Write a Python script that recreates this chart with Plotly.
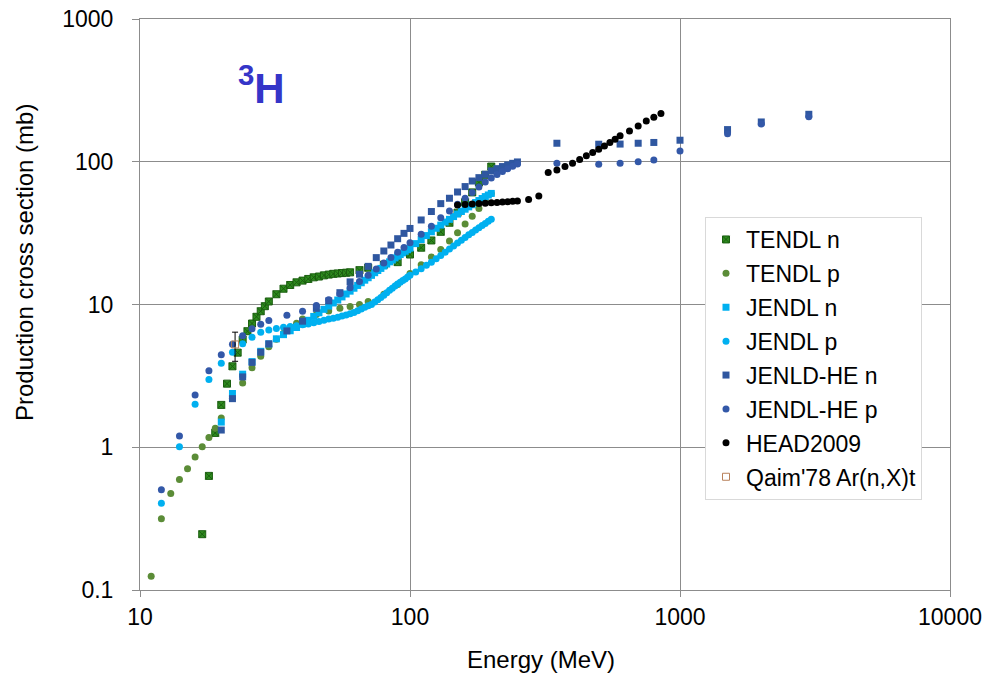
import plotly.graph_objects as go

# ---------------- data ----------------
tendl_n_E = [17, 18, 19, 20, 21, 22, 23, 24, 25, 26, 27, 28, 29, 30,
             32, 34, 36, 38, 40, 42, 44, 46, 48, 50, 52, 54, 56, 58, 60,
             65, 70, 80, 90, 100, 110, 120, 130, 140, 150, 160, 170, 180, 190, 200]
tendl_n = [0.246, 0.63, 1.26, 1.98, 2.79, 3.69, 4.6, 5.68, 6.5, 7.36, 8.2, 8.97, 9.73, 10.5,
           11.8, 12.9, 13.7, 14.3, 14.7, 15.1, 15.5, 15.7, 16.0, 16.2, 16.4, 16.5, 16.6, 16.7, 16.8,
           17.4, 18.1, 19.0, 19.8, 22.4, 25.0, 28.1, 32.3, 37.4, 44.0, 52.0, 61.0, 71.5, 81.0, 92.5]

tendl_p_E = [11, 12, 13, 14, 15, 16, 17, 18, 19, 20,
             22, 24, 26, 28, 30, 32, 34, 36, 38, 40,
             45, 50, 55, 60, 65, 70,
             80, 90, 100, 110, 120, 130, 140, 150, 160, 170, 180, 190, 200]
tendl_p = [0.125, 0.315, 0.475, 0.594, 0.706, 0.853, 1.01, 1.17, 1.36, 1.6,
           2.2, 2.82, 3.6, 4.34, 5.05, 5.7, 6.3, 6.9, 7.4, 7.9,
           8.5, 9.0, 9.4, 9.7, 10.0, 10.5,
           11.8, 13.8, 16.5, 19.0, 21.5, 24.3, 27.8, 31.8, 36.6, 41.5, 47.0, 53.0, 60.0]

jendl_n_E = [20, 22, 24, 26, 28, 30, 32, 34, 36, 38, 40, 42, 44, 46, 48, 50,
             52, 54, 56, 58, 60, 62, 64, 66, 68, 70, 72, 74, 76, 78, 80,
             82, 84, 86, 88, 90, 92, 94, 96, 98, 100,
             105, 110, 115, 120, 125, 130, 135, 140, 145, 150,
             155, 160, 165, 170, 175, 180, 185, 190, 195, 200]
jendl_n = [1.5, 2.38, 3.25, 3.98, 4.7, 5.3, 5.75, 6.15, 6.55, 6.9, 7.3, 7.75, 8.25, 8.75, 9.25, 9.75,
           10.25, 10.75, 11.3, 11.85, 12.4, 13.0, 13.6, 14.2, 14.8, 15.4, 16.0, 16.7, 17.3, 17.9, 18.6,
           19.2, 19.9, 20.5, 21.2, 21.8, 22.4, 23.0, 23.6, 24.2, 24.8,
           26.7, 28.5, 30.4, 32.3, 34.2, 36.0, 37.8, 39.5, 41.3, 43.0,
           44.8, 46.5, 48.3, 50.0, 51.8, 53.5, 55.3, 57.0, 58.5, 60.0]

jendl_p_E = [12, 14, 16, 18, 20, 22, 24, 26, 28, 30, 32, 34, 36, 38, 40, 42, 44, 46, 48, 50,
             52, 54, 56, 58, 60, 62, 64, 66, 68, 70, 72, 74, 76, 78, 80,
             82, 84, 86, 88, 90, 92, 94, 96, 98, 100,
             105, 110, 115, 120, 125, 130, 135, 140, 145, 150,
             155, 160, 165, 170, 175, 180, 185, 190, 195, 200]
jendl_p = [0.406, 1.01, 2.0, 2.98, 3.87, 4.63, 5.32, 5.9, 6.4, 6.64, 6.8, 6.92, 7.02, 7.1, 7.2,
           7.3, 7.45, 7.6, 7.75, 7.9,
           8.0, 8.15, 8.3, 8.45, 8.6, 8.8, 9.05, 9.3, 9.55, 9.8, 10.0, 10.4, 10.8, 11.2, 11.6,
           12.1, 12.6, 13.0, 13.5, 13.9, 14.3, 14.7, 15.1, 15.6, 16.0,
           16.9, 17.8, 18.8, 19.8, 20.9, 22.0, 23.2, 24.5, 25.7, 27.0,
           28.2, 29.5, 30.8, 32.0, 33.3, 34.5, 35.8, 37.0, 38.3, 39.5]

jendlhe_n_E = [20, 22, 24, 26, 28, 30, 35, 40, 45, 50, 55, 60, 65, 70, 75, 80, 85, 90, 95, 100,
               110, 120, 130, 140, 150, 160, 170, 180, 190, 200, 210, 220, 230, 240, 250,
               350, 500, 600, 700, 800, 1000, 1500, 2000, 3000]
jendlhe_n = [1.32, 2.19, 3.11, 3.93, 4.63, 5.3, 6.53, 7.64, 9.4, 10.6, 12.1, 14.4, 16.3, 18.5, 21.3,
             23.7, 26.1, 28.9, 31.5, 34.1,
             39.1, 44.8, 50.9, 55.5, 61.4, 67.0, 73.3, 77.4, 81.7, 86.3, 89.5, 92.5, 95.0, 97.5, 99.7,
             134.8, 132.7, 133.0, 134.8, 136.5, 141.5, 168.0, 190.0, 215.0]

jendlhe_p_E = [12, 14, 16, 18, 20, 22, 24, 26, 28, 30, 35, 40, 45, 50, 55, 60, 65, 70, 75, 80,
               85, 90, 95, 100, 110, 120, 130, 140, 150, 160, 170, 180, 190, 200, 210, 220,
               230, 240, 250, 350, 500, 600, 700, 800, 1000, 1500, 2000, 3000]
jendlhe_p = [0.503, 1.2, 2.32, 3.43, 4.44, 5.26, 6.05, 6.75, 7.27, 7.73, 8.41, 8.97, 9.84, 10.8,
             11.9, 13.1, 14.5, 16.0, 17.7, 19.5,
             21.3, 23.2, 25.1, 27.1, 31.0, 35.4, 40.5, 45.2, 50.4, 55.5, 61.0, 66.5, 72.0, 77.0,
             81.5, 85.5, 89.5, 93.0, 96.5, 97.6, 96.0, 97.6, 100.0, 103.0, 119.0, 157.0, 184.0, 207.0]

head_E = [150, 160, 170, 180, 190, 200, 210, 220, 230, 240, 250, 275, 300,
          325, 350, 375, 400, 425, 450, 475, 500, 525, 550, 575, 600, 650, 700, 750, 800, 850]
head = [49.8, 50.2, 50.6, 51.0, 51.3, 51.6, 51.9, 52.2, 52.5, 52.8, 53.1, 54.3, 57.6,
        84.0, 87.6, 92.5, 97.6, 103.5, 110.0, 116.0, 122.5, 129.0, 136.5, 144.0, 152.0,
        164.0, 178.0, 193.0, 205.0, 218.0]

qaim_E = [22.5]
qaim = [5.25]
qaim_err_plus = [1.15]
qaim_err_minus = [1.25]

x_ticks = [10, 100, 1000, 10000]
x_tick_text = ["10", "100", "1000", "10000"]
y_ticks = [0.1, 1, 10, 100, 1000]
y_tick_text = ["0.1", "1", "10", "100", "1000"]

# ---------------- figure ----------------
FONT = "Liberation Sans, Arial, sans-serif"
W, H = 985, 673
L, T = 140, 19               # plot area at page x 140..950, y 19..590
R = W - 950
B = H - 590
PW, PH = W - L - R, H - T - B

fig = go.Figure()


def add(name, xs, ys, symbol, color, size=7, line=None):
    mk = dict(symbol=symbol, color=color, size=size)
    mk["line"] = line if line else dict(width=0)
    fig.add_trace(go.Scatter(x=xs, y=ys, mode="markers", name=name, marker=mk,
                             legendgroup=name, cliponaxis=False))


add("TENDL n", tendl_n_E, tendl_n, "square-x", "#2e8b1e", 7,
    dict(width=1, color="#1b5e10"))
add("TENDL p", tendl_p_E, tendl_p, "circle", "#5b8c37", 7)
add("JENDL n", jendl_n_E, jendl_n, "square", "#00b0f0", 7)
add("JENDL p", jendl_p_E, jendl_p, "circle", "#00b0f0", 7)
add("JENLD-HE n", jendlhe_n_E, jendlhe_n, "square", "#2f57a0", 7)
add("JENDL-HE p", jendlhe_p_E, jendlhe_p, "circle", "#3358a8", 7)
add("HEAD2009", head_E, head, "circle", "#000000", 7)

fig.add_trace(go.Scatter(
    x=qaim_E, y=qaim, mode="markers", name="Qaim'78 Ar(n,X)t", legendgroup="qaim",
    marker=dict(symbol="square-open", color="#b8805a", size=7, line=dict(width=1)),
    error_y=dict(type="data", symmetric=False, array=qaim_err_plus,
                 arrayminus=qaim_err_minus, color="#000000", thickness=1, width=3),
))

grid = "#8c8c8c"
fig.update_xaxes(type="log", range=[1, 4], tickvals=x_ticks, ticktext=x_tick_text,
                 showgrid=True, gridcolor=grid, gridwidth=1,
                 showline=True, linecolor=grid, linewidth=1, mirror=True,
                 ticks="outside", ticklen=6, tickcolor=grid,
                 ticklabelstandoff=0, automargin=False, ticklabeloverflow="allow",
                 tickfont=dict(family=FONT, size=23, color="#000000"),
                 zeroline=False)
fig.update_yaxes(type="log", range=[-1, 3], tickvals=y_ticks, ticktext=y_tick_text,
                 showgrid=True, gridcolor=grid, gridwidth=1,
                 showline=True, linecolor=grid, linewidth=1, mirror=True,
                 ticks="outside", ticklen=7, tickcolor=grid,
                 ticklabelstandoff=14, automargin=False, ticklabeloverflow="allow",
                 tickfont=dict(family=FONT, size=23, color="#000000"),
                 zeroline=False)


def px_x(p):
    """page pixel x -> paper coordinate"""
    return (p - L) / PW


def px_y(p):
    """page pixel y -> paper coordinate"""
    return 1 - (p - T) / PH


fig.update_layout(
    width=W, height=H,
    margin=dict(l=L, r=R, t=T, b=B, autoexpand=False),
    paper_bgcolor="white", plot_bgcolor="white",
    font=dict(family=FONT, size=22, color="#000000"),
    legend=dict(x=px_x(705), y=px_y(217), xanchor="left", yanchor="top",
                bgcolor="white", bordercolor="#d9d9d9", borderwidth=1,
                font=dict(family=FONT, size=23, color="#000000"),
                tracegroupgap=1, itemwidth=30),
    annotations=[
        dict(text="<b><sup>3</sup>H</b>", x=px_x(261), y=px_y(85),
             xref="paper", yref="paper", xanchor="center", yanchor="middle",
             showarrow=False, font=dict(family=FONT, size=42, color="#3535c8")),
        dict(text="Production cross section (mb)", x=px_x(24), y=px_y(263),
             xref="paper", yref="paper", xanchor="center", yanchor="middle",
             showarrow=False, textangle=-90,
             font=dict(family=FONT, size=24, color="#000000")),
        dict(text="Energy (MeV)", x=px_x(541), y=px_y(659),
             xref="paper", yref="paper", xanchor="center", yanchor="middle",
             showarrow=False, font=dict(family=FONT, size=24, color="#000000")),
    ],
)

# remove the default page margin so the figure fills the 985x673 window exactly
page_js = ("document.body.style.margin='0';"
           "document.body.style.overflow='hidden';")
fig.write_html("out.html", post_script=page_js,
               config={"displayModeBar": False})
